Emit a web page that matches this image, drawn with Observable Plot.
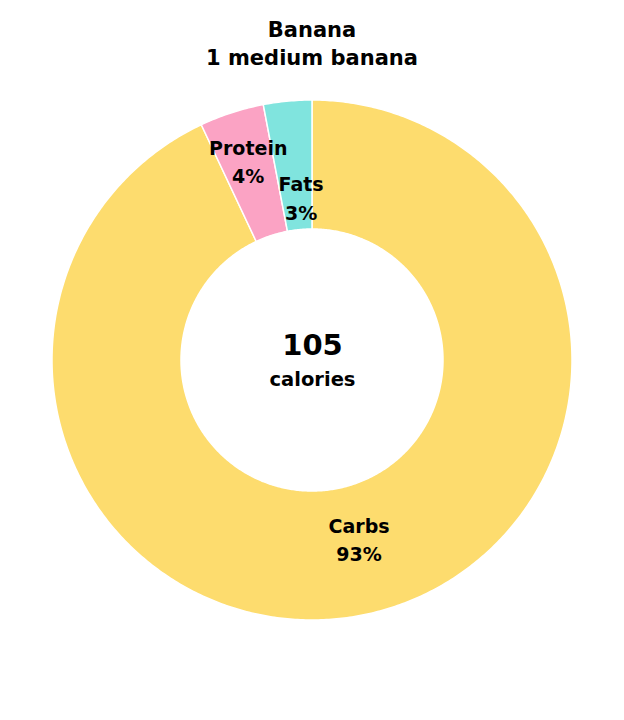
<!DOCTYPE html>
<html>
<head>
<meta charset="utf-8">
<script src="https://cdn.jsdelivr.net/npm/d3@7"></script>
<script src="https://cdn.jsdelivr.net/npm/@observablehq/plot@0.6"></script>
<style>
  body { margin: 0; background: #fff; font-family: "DejaVu Sans", sans-serif; }
  #title { width: 624px; text-align: center; font-weight: bold; font-size: 21px; line-height: 28px; padding-top: 16px; height: 64px; color: #000; }
</style>
</head>
<body>
<div id="title">Banana<br>1 medium banana</div>
<div id="chart"></div>
<script>
const nutrients = ["Carbs", "Protein", "Fats"];
const shares = [93, 4, 3];
const colors = ["#fddc6e", "#fba3c4", "#80e4de"];
const calories = 105;
const caloriesLabel = "calories";

const R_OUT = 260, R_IN = 131, R_LABEL = 195;
const total = d3.sum(shares);
let acc = 0;
const slices = nutrients.map((n, i) => {
  const a0 = acc / total * 2 * Math.PI;
  acc += shares[i];
  const a1 = acc / total * 2 * Math.PI;
  return {name: n, value: shares[i], color: colors[i], a0, a1};
});
const pts = [];
for (const s of slices) {
  const steps = Math.max(4, Math.ceil((s.a1 - s.a0) / 0.01));
  for (let k = 0; k <= steps; k++) {
    const a = s.a0 + (s.a1 - s.a0) * k / steps;
    pts.push({name: s.name, color: s.color,
      xo: R_OUT * Math.sin(a), yo: R_OUT * Math.cos(a),
      xi: R_IN * Math.sin(a), yi: R_IN * Math.cos(a)});
  }
}
const labels = slices.map(s => {
  const m = (s.a0 + s.a1) / 2;
  return {name: s.name, text: `${s.name}\n${Math.round(s.value / total * 100)}%`,
    x: R_LABEL * Math.sin(m), y: R_LABEL * Math.cos(m)};
});
const font = {fontFamily: "'DejaVu Sans', sans-serif", fontWeight: "bold", fill: "#000"};
const lbl = (name, dx, dy) => Plot.text(labels.filter(d => d.name === name), {
  x: "x", y: "y", text: "text", dx, dy, fontSize: 19, lineHeight: 1.5, ...font
});

const plot = Plot.plot({
  width: 624, height: 640,
  margin: 0,
  x: {domain: [-312, 312], axis: null},
  y: {domain: [-360, 280], axis: null},
  marks: [
    Plot.area(pts, {x1: "xo", y1: "yo", x2: "xi", y2: "yi", z: "name", fill: "color", stroke: "white", strokeWidth: 1.5}),
    lbl("Carbs", 4, -13),
    lbl("Protein", -4, -15),
    lbl("Fats", 7, 30),
    Plot.text([calories], {x: () => 0, y: () => 15, text: d => String(d), fontSize: 29, ...font}),
    Plot.text([caloriesLabel], {x: () => 0, y: () => -19, text: d => d, fontSize: 19.5, ...font})
  ]
});
document.getElementById("chart").appendChild(plot);
</script>
</body>
</html>
